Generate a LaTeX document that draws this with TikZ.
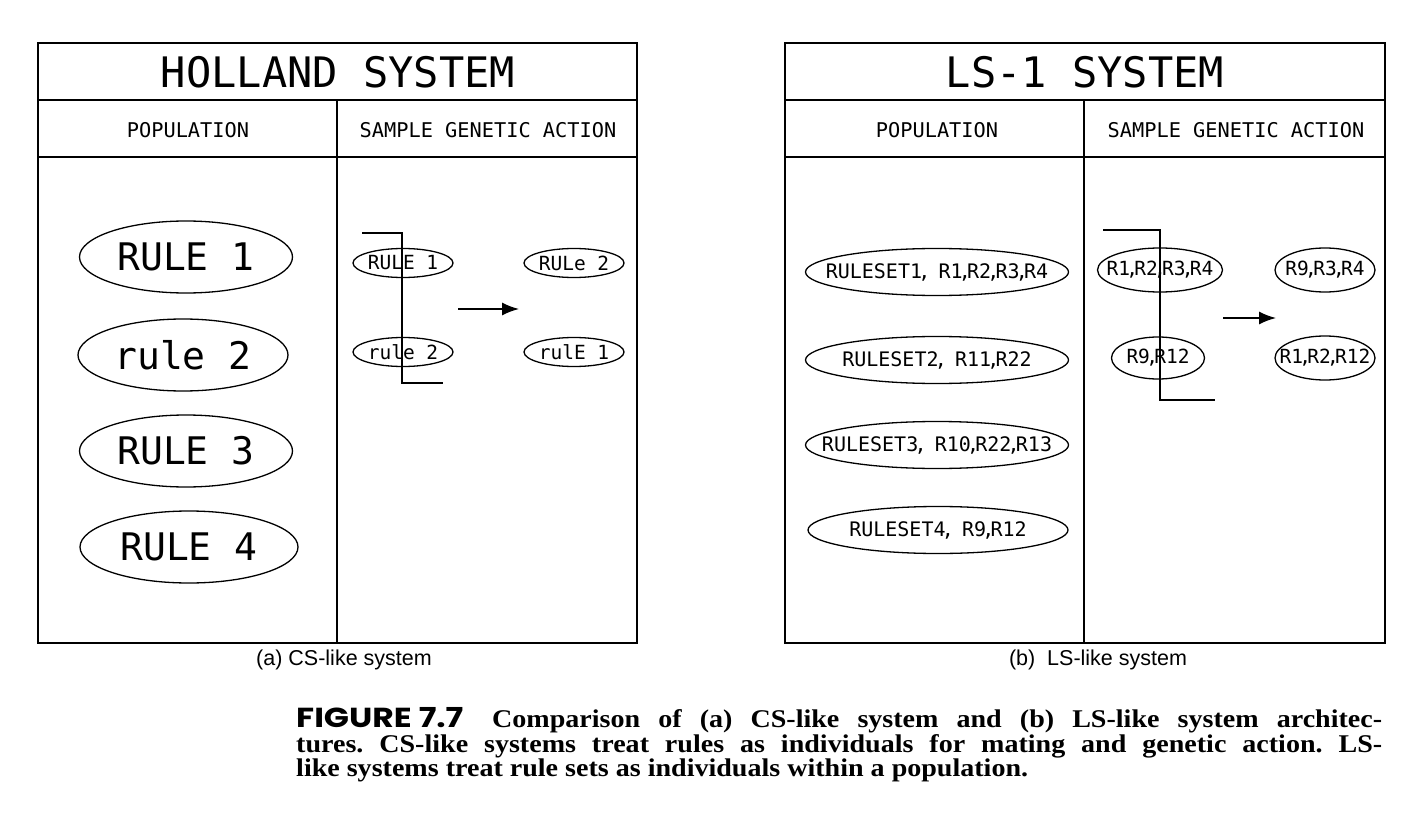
\documentclass[tikz,border=0pt]{standalone}
\usepackage{fontspec}
\usetikzlibrary{shapes.geometric,arrows.meta}
\newfontfamily\cadfont{DejaVu Sans Mono}
\newfontfamily\capsans{Liberation Sans}
\newfontfamily\capserif{Liberation Serif}[FakeStretch=1.1]
\newfontfamily\figfont{Poppins}[FakeStretch=1.2]
\newcommand\rsep{\kern-0.19em,\kern-0.19em}
\newcommand\zc[1]{\makebox[0pt]{#1}}
\frenchspacing
\begin{document}
\begin{tikzpicture}[x=1pt,y=-1pt,
  frame/.style={line width=1.6pt},
  ell/.style={ellipse, draw, line width=1.3pt, inner sep=0pt},
  bigell/.style={ell, minimum width=213pt, minimum height=72pt, font={\cadfont\fontsize{38}{40}\selectfont}},
  smell/.style={ell, minimum width=100pt, minimum height=29pt, font={\cadfont\fontsize{19.5}{22}\selectfont}},
  rsell/.style={ell, minimum width=263pt, minimum height=47pt, font={\cadfont\fontsize{20}{22}\selectfont}},
  r2ell/.style={ell, minimum height=44pt, font={\cadfont\fontsize{19.5}{22}\selectfont}},
  title/.style={font={\cadfont\fontsize{42}{46}\selectfont}, inner sep=0pt},
  head/.style={font={\cadfont\fontsize{20.3}{22}\selectfont}, inner sep=0pt},
  cross/.style={line width=1.5pt},
  arr/.style={line width=1.5pt, -{Latex[length=17pt,width=13pt]}},
  sub/.style={font={\capsans\fontsize{21.5}{24}\selectfont}, inner sep=0pt},
  capt/.style={font={\capserif\bfseries\fontsize{25.5}{28}\selectfont}, inner sep=0pt, anchor=base west}
]
\useasboundingbox (0,0) rectangle (1410,834);
\fill[white] (0,0) rectangle (1410,834);

% ---------- left panel: Holland system ----------
\draw[frame] (38,43) rectangle (637,643);
\draw[frame] (38,100) -- (637,100);
\draw[frame] (38,157) -- (637,157);
\draw[frame] (337,100) -- (337,643);
\node[title] (lt) at (338,72) {HOLLAND SYSTEM};
\node[head] (lp) at (188,130) {POPULATION};
\node[head] (lg) at (488,130) {SAMPLE GENETIC ACTION};

\node[bigell] (lr1) at (186,257) {\zc{RULE 1}};
\node[bigell, minimum width=210pt] (lr2) at (183,355) {\zc{rule 2}};
\node[bigell] (lr3) at (186,451) {\zc{RULE 3}};
\node[bigell, minimum width=218pt] (lr4) at (189,547) {\zc{RULE 4}};

\node[smell] (la1) at (403,263) {\zc{RULE 1}};
\node[smell] (la2) at (403,352) {\zc{rule 2}};
\node[smell] (lb1) at (574,263) {\zc{RULe 2}};
\node[smell] (lb2) at (574,352) {\zc{rulE 1}};

\coordinate (lc0) at (362,233);
\coordinate (lc1) at (402,233);
\coordinate (lc2) at (402,383);
\coordinate (lc3) at (443,383);
\draw[cross] (lc0) -- (lc1) -- (lc2) -- (lc3);
\coordinate (la) at (458,309);
\coordinate (lb) at (519,309);
\draw[arr] (la) -- (lb);

\node[sub] (lsub) at (344,660) {(a) CS-like system};

% ---------- right panel: LS-1 system ----------
\draw[frame] (785,43) rectangle (1385,643);
\draw[frame] (785,100) -- (1385,100);
\draw[frame] (785,157) -- (1385,157);
\draw[frame] (1084,100) -- (1084,643);
\node[title] (rt) at (1085,72) {LS-1 SYSTEM};
\node[head] (rp) at (937,130) {POPULATION};
\node[head] (rg) at (1236,130) {SAMPLE GENETIC ACTION};

\node[rsell] (rs1) at (937,272) {\zc{RULESET1\rsep{} R1\rsep R2\rsep R3\rsep R4}};
\node[rsell] (rs2) at (937,360) {\zc{RULESET2\rsep{} R11\rsep R22}};
\node[rsell] (rs3) at (937,445) {\zc{RULESET3\rsep{} R10\rsep R22\rsep R13}};
\node[rsell, minimum width=260pt] (rs4) at (938,530) {\zc{RULESET4\rsep{} R9\rsep R12}};

\node[r2ell, minimum width=125pt] (ra1) at (1160,270) {\zc{R1\rsep R2\rsep R3\rsep R4}};
\node[r2ell, minimum width=93pt, minimum height=42pt] (ra2) at (1158,358) {\zc{R9\rsep R12}};
\node[r2ell, minimum width=100pt] (rb1) at (1325,270) {\zc{R9\rsep R3\rsep R4}};
\node[r2ell, minimum width=100pt] (rb2) at (1325,358) {\zc{R1\rsep R2\rsep R12}};

\coordinate (rc0) at (1103,230);
\coordinate (rc1) at (1160,230);
\coordinate (rc2) at (1160,400);
\coordinate (rc3) at (1215,400);
\draw[cross] (rc0) -- (rc1) -- (rc2) -- (rc3);
\coordinate (ra) at (1223,318);
\coordinate (rb) at (1276,318);
\draw[arr] (ra) -- (rb);

\node[sub] (rsub) at (1098,660) {(b)\ \ LS-like system};

% ---------- figure caption ----------
\node[inner sep=0pt, anchor=base west, font={\figfont\bfseries\fontsize{27.5}{30}\selectfont}] (fig) at (296,727) {FIGURE 7.7};
\node[capt] (c1) at (492,727) {\makebox[890pt][s]{Comparison of (a) CS-like system and (b) LS-like system architec-}};
\node[capt] (c2) at (296,752) {\makebox[1086pt][s]{tures. CS-like systems treat rules as individuals for mating and genetic action. LS-}};
\node[capt] (c3) at (296,776) {like systems treat rule sets as individuals within a population.};
\end{tikzpicture}
\end{document}
